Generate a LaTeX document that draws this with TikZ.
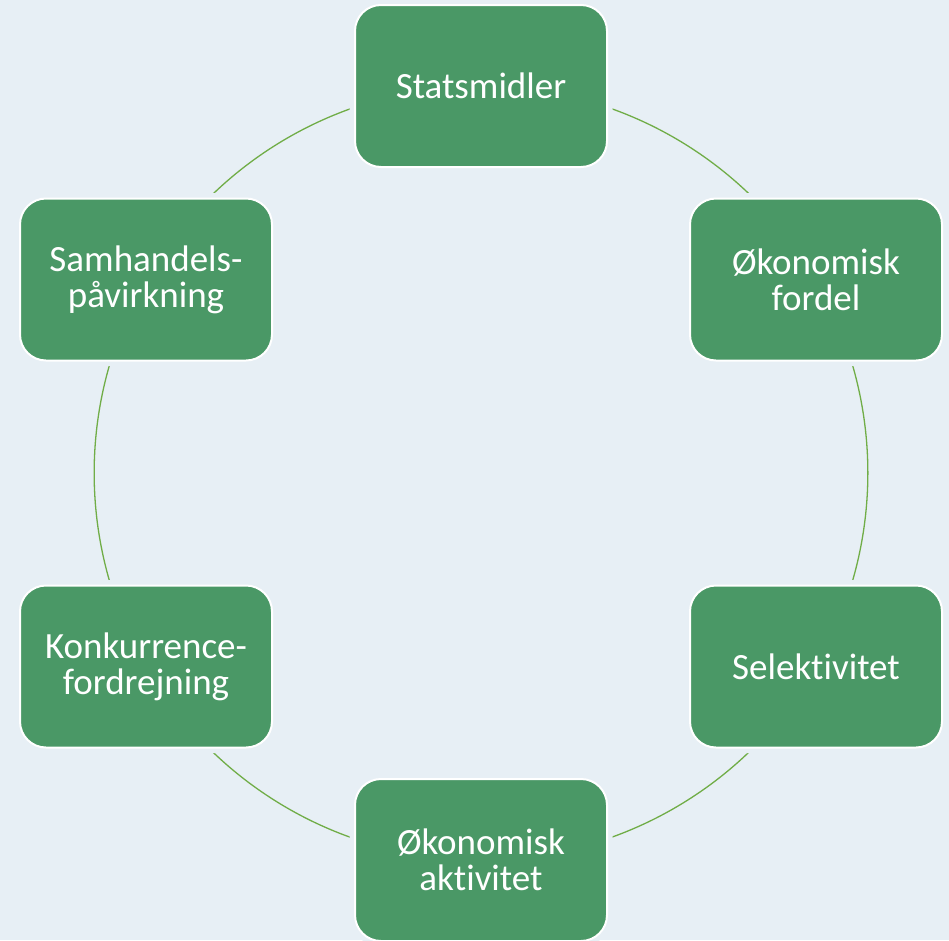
\documentclass[tikz,border=0pt]{standalone}
\usepackage{fontspec}
\setmainfont{Carlito}[Ligatures=NoCommon]
\usetikzlibrary{backgrounds}
\definecolor{bgc}{HTML}{E7EFF5}
\definecolor{boxg}{HTML}{4A9866}
\definecolor{arcg}{HTML}{70AD47}
\tikzset{
  cyclebox/.style={rectangle, rounded corners=26pt, minimum width=252pt, minimum height=162pt,
    inner sep=0pt, fill=boxg, draw=white, line width=2pt, text=white, align=center,
    font=\fontsize{37}{36}\selectfont,
    preaction={draw=bgc, line width=11pt}},
  cyclearc/.style={draw=arcg, line width=1.3pt}
}
\begin{document}
\begin{tikzpicture}[x=1pt,y=-1pt]
\useasboundingbox (0,0) rectangle (949,940);
\node[cyclebox] (n1) at (481,86) {Statsmidler};
\node[cyclebox] (n2) at (816,279.5) {Økonomisk\\fordel};
\node[cyclebox] (n3) at (816,666.5) {Selektivitet};
\node[cyclebox] (n4) at (481,860) {Økonomisk\\aktivitet};
\node[cyclebox] (n5) at (146,666.5) {Konkurrence-\\fordrejning};
\node[cyclebox] (n6) at (146,279.5) {Samhandels-\\påvirkning};
\begin{scope}[on background layer]
\fill[bgc] (0,0) rectangle (949,940);
\draw[cyclearc] (n1.center) arc[start angle=90, end angle=30, radius=387pt];
\draw[cyclearc] (n2.center) arc[start angle=30, end angle=-30, radius=387pt];
\draw[cyclearc] (n3.center) arc[start angle=-30, end angle=-90, radius=387pt];
\draw[cyclearc] (n4.center) arc[start angle=-90, end angle=-150, radius=387pt];
\draw[cyclearc] (n5.center) arc[start angle=210, end angle=150, radius=387pt];
\draw[cyclearc] (n6.center) arc[start angle=150, end angle=90, radius=387pt];
\end{scope}
\end{tikzpicture}
\end{document}
